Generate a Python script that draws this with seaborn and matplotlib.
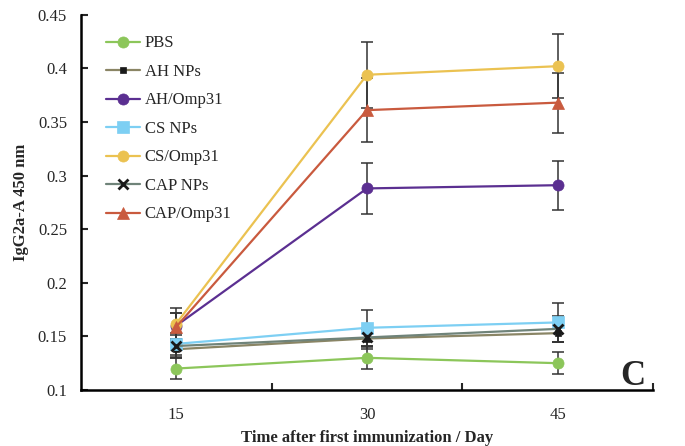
import matplotlib
matplotlib.use("Agg")
import matplotlib.pyplot as plt
import seaborn as sns

# data
days = ["15", "30", "45"]
groups = ["PBS", "AH NPs", "AH/Omp31", "CS NPs", "CS/Omp31", "CAP NPs", "CAP/Omp31"]
pbs = [0.120, 0.130, 0.125]
ah_nps = [0.138, 0.148, 0.153]
ah_omp = [0.160, 0.288, 0.291]
cs_nps = [0.143, 0.158, 0.163]
cs_omp = [0.162, 0.394, 0.402]
cap_nps = [0.141, 0.149, 0.157]
cap_omp = [0.159, 0.361, 0.368]
values = [pbs, ah_nps, ah_omp, cs_nps, cs_omp, cap_nps, cap_omp]

err_pbs = [0.010, 0.010, 0.010]
err_ah_nps = [0.008, 0.010, 0.008]
err_ah_omp = [0.012, 0.024, 0.023]
err_cs_nps = [0.010, 0.017, 0.018]
err_cs_omp = [0.014, 0.031, 0.030]
err_cap_nps = [0.010, 0.008, 0.012]
err_cap_omp = [0.013, 0.030, 0.028]
errors = [err_pbs, err_ah_nps, err_ah_omp, err_cs_nps, err_cs_omp, err_cap_nps, err_cap_omp]

colors = ["#8cc65a", "#8a8565", "#5b2f91", "#7dcff3", "#ebc251", "#6f8379", "#c95a3e"]
markers = ["o", "s", "o", "s", "o", "x", "^"]
marker_colors = ["#8cc65a", "#1a1a1a", "#5b2f91", "#7dcff3", "#ebc251", "#1a1a1a", "#c95a3e"]
marker_sizes = [8, 4, 8, 8, 8, 7, 8]

sns.set_style("ticks")
plt.rcParams["font.family"] = ["Liberation Serif", "DejaVu Serif"]

fig = plt.figure(figsize=(6.85, 4.46), dpi=100)
ax = fig.add_axes([0.1182, 0.1256, 0.8351, 0.8414])

for vals, err in zip(values, errors):
    ax.errorbar(days, vals, yerr=err, fmt="none", ecolor="#333333",
                elinewidth=1.1, capsize=4.5, capthick=1.1, zorder=1)

for name, vals, c, m, mc, ms in zip(groups, values, colors, markers, marker_colors, marker_sizes):
    sns.lineplot(x=days, y=vals, ax=ax, color=c, marker=m, markersize=ms,
                 markerfacecolor=mc, markeredgecolor=mc,
                 markeredgewidth=2 if m == "x" else 0.5,
                 linewidth=1.6, label=name, sort=False, zorder=3)

ax.set_xlim(-0.5, 2.5)
ax.set_ylim(0.1, 0.45)
yt = [0.1, 0.15, 0.2, 0.25, 0.3, 0.35, 0.4, 0.45]
ax.set_yticks(yt)
ax.set_yticklabels(["0.1", "0.15", "0.2", "0.25", "0.3", "0.35", "0.4", "0.45"], fontsize=12)
ax.set_xticks([0, 1, 2])
ax.set_xticklabels(days, fontsize=12)
ax.set_xticks([0.5, 1.5, 2.5], minor=True)
ax.tick_params(axis="x", which="major", length=0, pad=12)
ax.tick_params(axis="x", which="minor", direction="in", length=5, width=1.5)
ax.tick_params(axis="y", direction="in", length=5, width=1.5, pad=10)

sns.despine(ax=ax)
for s in ["left", "bottom"]:
    ax.spines[s].set_linewidth(1.8)
    ax.spines[s].set_color("black")

ax.set_xlabel("Time after first immunization / Day", fontsize=12, fontweight="bold", labelpad=5)
ax.set_ylabel("IgG2a-A 450 nm", fontsize=12, fontweight="bold", labelpad=6)

ax.text(0.965, 0.013, "C", transform=ax.transAxes, fontsize=25, fontweight="bold",
        ha="center", va="baseline")

ax.legend(loc="upper left", bbox_to_anchor=(0.018, 0.985), frameon=False, fontsize=12,
          labelspacing=0.75, handlelength=2.05, handletextpad=0.25)

fig.savefig("out.png", dpi=100)
